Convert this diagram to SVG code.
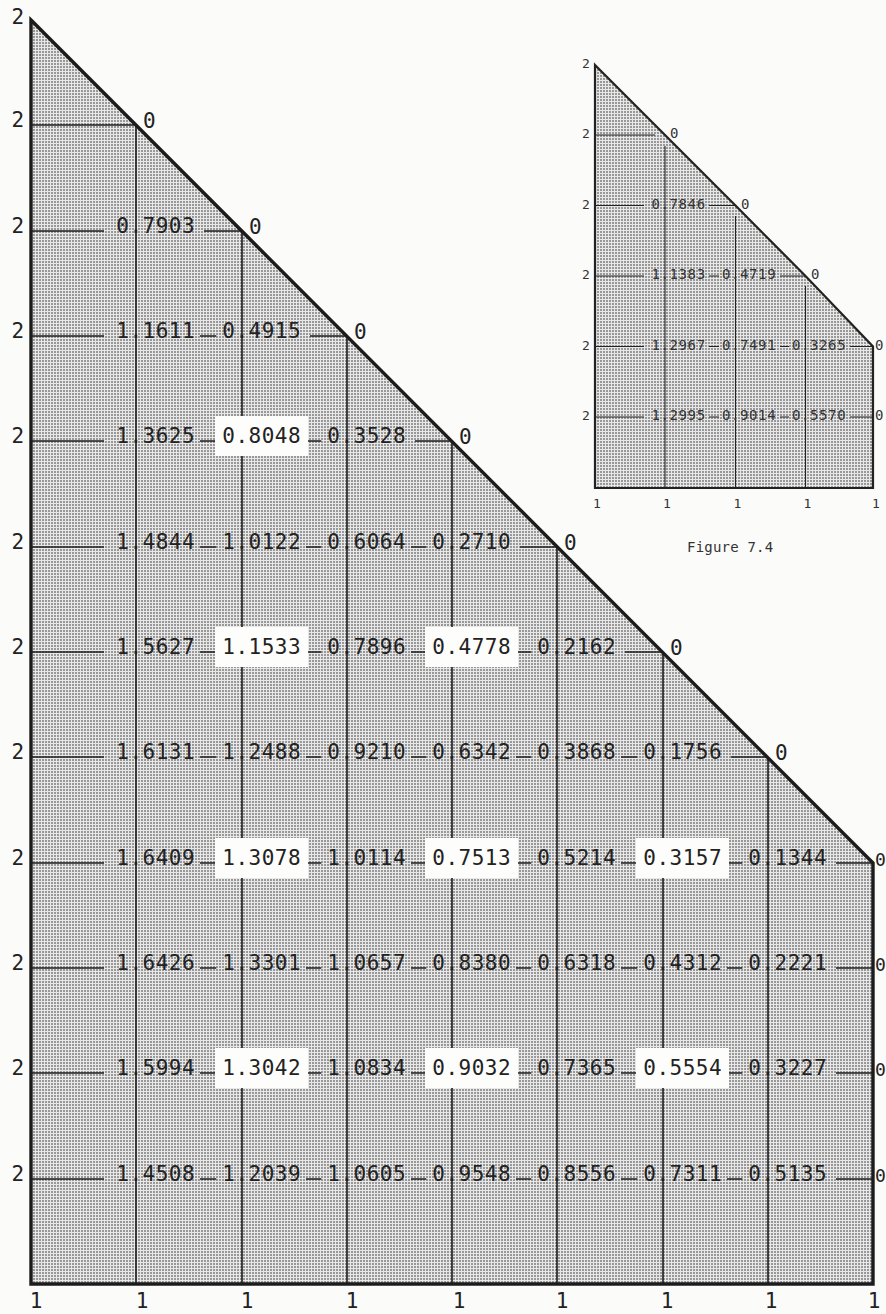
<svg xmlns="http://www.w3.org/2000/svg" width="886" height="1314" viewBox="0 0 886 1314">
<defs>
<pattern id="dots" width="3" height="3" patternUnits="userSpaceOnUse">
<rect width="3" height="3" fill="#e8e8e8"/>
<rect width="2" height="2" fill="#989898"/>
</pattern>
<style>
.edge{fill:url(#dots);stroke:#1c1c1c;stroke-width:3.4;stroke-linejoin:miter}
.g{stroke:#1c1c1c;stroke-width:1.6;fill:none}
.n{font-family:"DejaVu Sans Mono","Liberation Mono",monospace;font-size:21px;letter-spacing:0.5px;fill:#222}
.a{font-family:"DejaVu Sans Mono","Liberation Mono",monospace;font-size:21px;fill:#222}
.z{font-family:"DejaVu Sans Mono","Liberation Mono",monospace;font-size:18px;fill:#222}
.box{fill:#fdfdfc}
.ie{fill:url(#dots);stroke:#222;stroke-width:2.2}
.ig{stroke:#222;stroke-width:1.1;fill:none}
.s{font-family:"DejaVu Sans Mono","Liberation Mono",monospace;font-size:14px;letter-spacing:0.6px;fill:#333}
.sa{font-family:"DejaVu Sans Mono","Liberation Mono",monospace;font-size:13px;fill:#333}
</style>
</defs>
<rect width="886" height="1314" fill="#fbfbfa"/>

<g id="main-figure">
<polygon class="edge" points="31,20 873,863 873,1284 31,1284"/>
<g id="main-connectors">
<path class="g" d="M136,125V1284M242,231V1284M347,336V1284M452,441V1284M557,547V1284M663,652V1284M768,757V1284"/>
<path class="g" d="M31,125H136
M31,231H104M204,231H242
M31,336H104M200,336H216.3M310,336H347
M31,441H104M200,441H216.3M306,441H321.3M415,441H452
M31,547H104M200,547H216.3M306,547H321.3M411,547H426.3M520,547H557
M31,652H104M200,652H216.3M306,652H321.3M411,652H426.3M516,652H531.3M625,652H663
M31,757H104M200,757H216.3M306,757H321.3M411,757H426.3M516,757H531.3M621,757H637.3M731,757H768
M31,863H104M200,863H216.3M306,863H321.3M411,863H426.3M516,863H531.3M621,863H637.3M727,863H742.3M836,863H873
M31,968H104M200,968H216.3M306,968H321.3M411,968H426.3M516,968H531.3M621,968H637.3M727,968H742.3M836,968H873
M31,1073H104M200,1073H216.3M306,1073H321.3M411,1073H426.3M516,1073H531.3M621,1073H637.3M727,1073H742.3M836,1073H873
M31,1179H104M200,1179H216.3M306,1179H321.3M411,1179H426.3M516,1179H531.3M621,1179H637.3M727,1179H742.3M836,1179H873"/>
</g>
<g id="main-label-boxes">
<rect class="box" x="215" y="416" width="93" height="40"/>
<rect class="box" x="215" y="627" width="93" height="40"/>
<rect class="box" x="425" y="627" width="93" height="40"/>
<rect class="box" x="215" y="838" width="93" height="40"/>
<rect class="box" x="425" y="838" width="93" height="40"/>
<rect class="box" x="636" y="838" width="93" height="40"/>
<rect class="box" x="215" y="1048" width="93" height="40"/>
<rect class="box" x="425" y="1048" width="93" height="40"/>
<rect class="box" x="636" y="1048" width="93" height="40"/>
</g>
<g id="main-left-labels" class="a">
<text x="11.5" y="24">2</text><text x="11.5" y="127">2</text><text x="11.5" y="233">2</text><text x="11.5" y="338">2</text><text x="11.5" y="443">2</text><text x="11.5" y="549">2</text><text x="11.5" y="654">2</text><text x="11.5" y="759">2</text><text x="11.5" y="865">2</text><text x="11.5" y="970">2</text><text x="11.5" y="1075">2</text><text x="11.5" y="1181">2</text>
</g>
<g id="main-bottom-labels" class="a" text-anchor="middle">
<text x="36" y="1308">1</text><text x="142" y="1308">1</text><text x="247" y="1308">1</text><text x="352" y="1308">1</text><text x="459" y="1308">1</text><text x="562" y="1308">1</text><text x="667" y="1308">1</text><text x="771" y="1308">1</text><text x="874" y="1308">1</text>
</g>
<g id="main-zero-labels" class="a">
<text x="143" y="128">0</text><text x="249" y="234">0</text><text x="354" y="339">0</text><text x="459" y="444">0</text><text x="564" y="550">0</text><text x="670" y="655">0</text><text x="775" y="760">0</text>
</g>
<g id="main-edge-zero-labels" class="z">
<text x="875" y="866">0</text><text x="875" y="971">0</text><text x="875" y="1076">0</text><text x="875" y="1182">0</text>
</g>
<g id="main-values" class="n">
<text x="116.3" y="233">0.7903</text>
<text x="116.3" y="338">1.1611</text><text x="222.3" y="338">0.4915</text>
<text x="116.3" y="443">1.3625</text><text x="222.3" y="443">0.8048</text><text x="327.3" y="443">0.3528</text>
<text x="116.3" y="549">1.4844</text><text x="222.3" y="549">1.0122</text><text x="327.3" y="549">0.6064</text><text x="432.3" y="549">0.2710</text>
<text x="116.3" y="654">1.5627</text><text x="222.3" y="654">1.1533</text><text x="327.3" y="654">0.7896</text><text x="432.3" y="654">0.4778</text><text x="537.3" y="654">0.2162</text>
<text x="116.3" y="759">1.6131</text><text x="222.3" y="759">1.2488</text><text x="327.3" y="759">0.9210</text><text x="432.3" y="759">0.6342</text><text x="537.3" y="759">0.3868</text><text x="643.3" y="759">0.1756</text>
<text x="116.3" y="865">1.6409</text><text x="222.3" y="865">1.3078</text><text x="327.3" y="865">1.0114</text><text x="432.3" y="865">0.7513</text><text x="537.3" y="865">0.5214</text><text x="643.3" y="865">0.3157</text><text x="748.3" y="865">0.1344</text>
<text x="116.3" y="970">1.6426</text><text x="222.3" y="970">1.3301</text><text x="327.3" y="970">1.0657</text><text x="432.3" y="970">0.8380</text><text x="537.3" y="970">0.6318</text><text x="643.3" y="970">0.4312</text><text x="748.3" y="970">0.2221</text>
<text x="116.3" y="1075">1.5994</text><text x="222.3" y="1075">1.3042</text><text x="327.3" y="1075">1.0834</text><text x="432.3" y="1075">0.9032</text><text x="537.3" y="1075">0.7365</text><text x="643.3" y="1075">0.5554</text><text x="748.3" y="1075">0.3227</text>
<text x="116.3" y="1181">1.4508</text><text x="222.3" y="1181">1.2039</text><text x="327.3" y="1181">1.0605</text><text x="432.3" y="1181">0.9548</text><text x="537.3" y="1181">0.8556</text><text x="643.3" y="1181">0.7311</text><text x="748.3" y="1181">0.5135</text>
</g>
</g>

<g id="inset-figure">
<polygon class="ie" points="595,65 665,135 735.5,205.5 805.5,276 873,346.5 873,488 595,488"/>
<g id="inset-connectors">
<path class="ig" d="M665,146V488M735.5,216V488M805.5,286V488"/>
<path class="ig" d="M595,135H655
M595,205.5H644M709,205.5H735.5
M595,276H644M709,276H719M780,276H805.5
M595,346.5H644M709,346.5H719M780,346.5H789M850,346.5H873
M595,417H644M709,417H719M780,417H789M850,417H873"/>
</g>
<g id="inset-left-labels" class="sa">
<text x="582" y="68">2</text><text x="582" y="138">2</text><text x="582" y="208.5">2</text><text x="582" y="279">2</text><text x="582" y="349.5">2</text><text x="582" y="420">2</text>
</g>
<g id="inset-bottom-labels" class="sa" text-anchor="middle">
<text x="597" y="508">1</text><text x="667" y="508">1</text><text x="737.5" y="508">1</text><text x="807.5" y="508">1</text><text x="876" y="508">1</text>
</g>
<g id="inset-zero-labels" class="s">
<text x="670" y="138">0</text><text x="741" y="208.5">0</text><text x="811" y="279">0</text><text x="875" y="349.5">0</text><text x="875" y="420">0</text>
</g>
<g id="inset-values" class="s">
<text x="651.5" y="208.5">0.7846</text>
<text x="651.5" y="279">1.1383</text><text x="722" y="279">0.4719</text>
<text x="651.5" y="349.5">1.2967</text><text x="722" y="349.5">0.7491</text><text x="792" y="349.5">0.3265</text>
<text x="651.5" y="420">1.2995</text><text x="722" y="420">0.9014</text><text x="792" y="420">0.5570</text>
</g>
<text id="inset-caption" x="687" y="552" class="s" style="letter-spacing:0.2px">Figure 7.4</text>
</g>
</svg>
